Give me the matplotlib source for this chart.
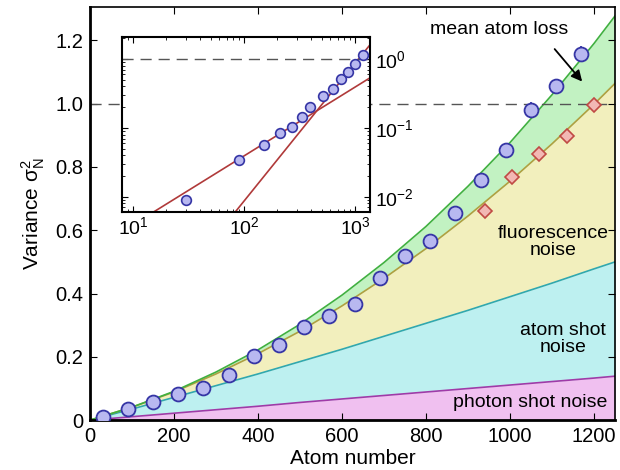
import numpy as np
import matplotlib
matplotlib.use('Agg')
import matplotlib.pyplot as plt
from matplotlib.ticker import FuncFormatter, LogLocator, NullFormatter

plt.rcParams['font.family'] = ['Liberation Sans', 'DejaVu Sans']
plt.rcParams['mathtext.fontset'] = 'custom'
plt.rcParams['mathtext.rm'] = 'Liberation Sans'
plt.rcParams['mathtext.it'] = 'Liberation Sans:italic'

# measured variances (blue circles)
atoms = [30, 90, 150, 210, 270, 330, 390, 450, 510, 570,
         630, 690, 750, 810, 870, 930, 990, 1050, 1110, 1170]
variance = [0.009, 0.034, 0.056, 0.084, 0.103, 0.142, 0.202, 0.237, 0.293, 0.328,
            0.368, 0.450, 0.520, 0.566, 0.653, 0.758, 0.853, 0.981, 1.055, 1.158]
variance_err = [0.003, 0.004, 0.005, 0.006, 0.006, 0.007, 0.008, 0.009, 0.010, 0.011,
                0.012, 0.013, 0.015, 0.017, 0.019, 0.021, 0.022, 0.023, 0.024, 0.025]
inset_idx = [0, 1, 2, 3, 4, 5, 6, 8, 10, 12, 14, 16, 19]

# corrected variances (red diamonds)
atoms_corr = [940, 1005, 1070, 1135, 1200]
variance_corr = [0.661, 0.768, 0.842, 0.898, 0.995]

# noise model, cumulative boundaries
model_n = [0, 100, 200, 300, 400, 500, 600, 700, 800, 900, 1000, 1100, 1200, 1250]
photon_top = [0, 0.011, 0.022, 0.033, 0.044, 0.056, 0.067, 0.078, 0.089, 0.100,
              0.111, 0.122, 0.133, 0.139]
atom_top = [0, 0.035, 0.072, 0.109, 0.146, 0.185, 0.224, 0.265, 0.306, 0.347,
            0.390, 0.433, 0.478, 0.500]
fluor_top = [0, 0.041, 0.089, 0.146, 0.210, 0.281, 0.361, 0.448, 0.542, 0.645,
             0.755, 0.873, 0.998, 1.064]
loss_top = [0, 0.041, 0.091, 0.152, 0.222, 0.303, 0.395, 0.498, 0.612, 0.739,
            0.877, 1.028, 1.190, 1.277]

# inset asymptotes
lin_n = [10, 1400]
lin_v = [0.0039, 0.549]
quad_n = [60, 1400]
quad_v = [0.0031, 1.705]

blue_face = '#b8b8f0'
blue_edge = '#3535a5'

fig = plt.figure(figsize=(6.2, 4.7), dpi=100)
ax = fig.add_axes([0.145, 0.106, 0.847, 0.879])

ax.fill_between(model_n, 0, photon_top, color='#f0c0f0', lw=0)
ax.fill_between(model_n, photon_top, atom_top, color='#bdf0f0', lw=0)
ax.fill_between(model_n, atom_top, fluor_top, color='#f2efbd', lw=0)
ax.fill_between(model_n, fluor_top, loss_top, color='#c2f2c2', lw=0)
ax.plot(model_n, photon_top, color='#a03aa8', lw=1.2)
ax.plot(model_n, atom_top, color='#2fa8b0', lw=1.2)
ax.plot(model_n, fluor_top, color='#b0a040', lw=1.2)
ax.plot(model_n, loss_top, color='#40b040', lw=1.2)

ax.axhline(1.0, color='#555555', lw=1, dashes=(8, 5))

ax.errorbar(atoms, variance, yerr=variance_err, fmt='o', ms=10, mfc=blue_face,
            mec=blue_edge, mew=1.3, ecolor=blue_edge, elinewidth=1.3, capsize=0, zorder=5)
ax.plot(atoms_corr, variance_corr, 'D', ms=7.2, mfc='#f2b8b4', mec='#c04a44', mew=1.2, zorder=5)

ax.set_xlim(0, 1250)
ax.set_ylim(0, 1.305)
ax.set_xticks([0, 200, 400, 600, 800, 1000, 1200])
ax.set_yticks([0, 0.2, 0.4, 0.6, 0.8, 1.0, 1.2])
ax.yaxis.set_major_formatter(FuncFormatter(lambda v, p: '0' if v == 0 else f'{v:.1f}'))
ax.tick_params(direction='in', top=True, right=True, labelsize=14.5, length=5, pad=5)
for side in ['left', 'bottom']:
    ax.spines[side].set_linewidth(2)
for side in ['top', 'right']:
    ax.spines[side].set_linewidth(1.2)
ax.set_xlabel('Atom number', fontsize=15, labelpad=2)
ax.set_ylabel(r'Variance $\mathregular{\sigma_N^2}$', fontsize=15, labelpad=6)

ax.text(975, 1.234, 'mean atom loss', fontsize=14, ha='center', va='center')
ax.annotate('', xy=(1176, 1.063), xytext=(1102, 1.179),
            arrowprops=dict(arrowstyle='-|>', color='black', lw=1.3, mutation_scale=16))
ax.text(1102, 0.562, 'fluorescence\nnoise', fontsize=14, ha='center', va='center',
        linespacing=1.0)
ax.text(1126, 0.256, 'atom shot\nnoise', fontsize=14, ha='center', va='center',
        linespacing=1.0)
ax.text(1048, 0.055, 'photon shot noise', fontsize=14, ha='center', va='center')

# inset, log-log
ins = fig.add_axes([0.197, 0.5496, 0.4, 0.371])
ins.set_facecolor('white')
ins.plot(lin_n, lin_v, color='#b03a3a', lw=1.2)
ins.plot(quad_n, quad_v, color='#b03a3a', lw=1.2)
ins.axhline(1.0, color='#555555', lw=1, dashes=(8, 5))
ins.plot([atoms[i] for i in inset_idx], [variance[i] for i in inset_idx], 'o', ms=7,
         mfc=blue_face, mec=blue_edge, mew=1.2, zorder=5)
ins.set_xscale('log')
ins.set_yscale('log')
ins.set_xlim(8.0, 1365)
ins.set_ylim(0.00605, 2.07)
ins.yaxis.tick_right()
ins.yaxis.set_label_position('right')
ins.xaxis.set_major_locator(LogLocator(base=10, numticks=10))
ins.yaxis.set_major_locator(LogLocator(base=10, numticks=10))
ins.xaxis.set_minor_formatter(NullFormatter())
ins.yaxis.set_minor_formatter(NullFormatter())
ins.tick_params(which='both', direction='in', top=True, right=True, left=True, bottom=True,
                labelsize=14)
ins.tick_params(which='major', length=4)
ins.tick_params(which='minor', length=2)
for s in ins.spines.values():
    s.set_linewidth(1.5)

fig.savefig('out.png', dpi=100)
